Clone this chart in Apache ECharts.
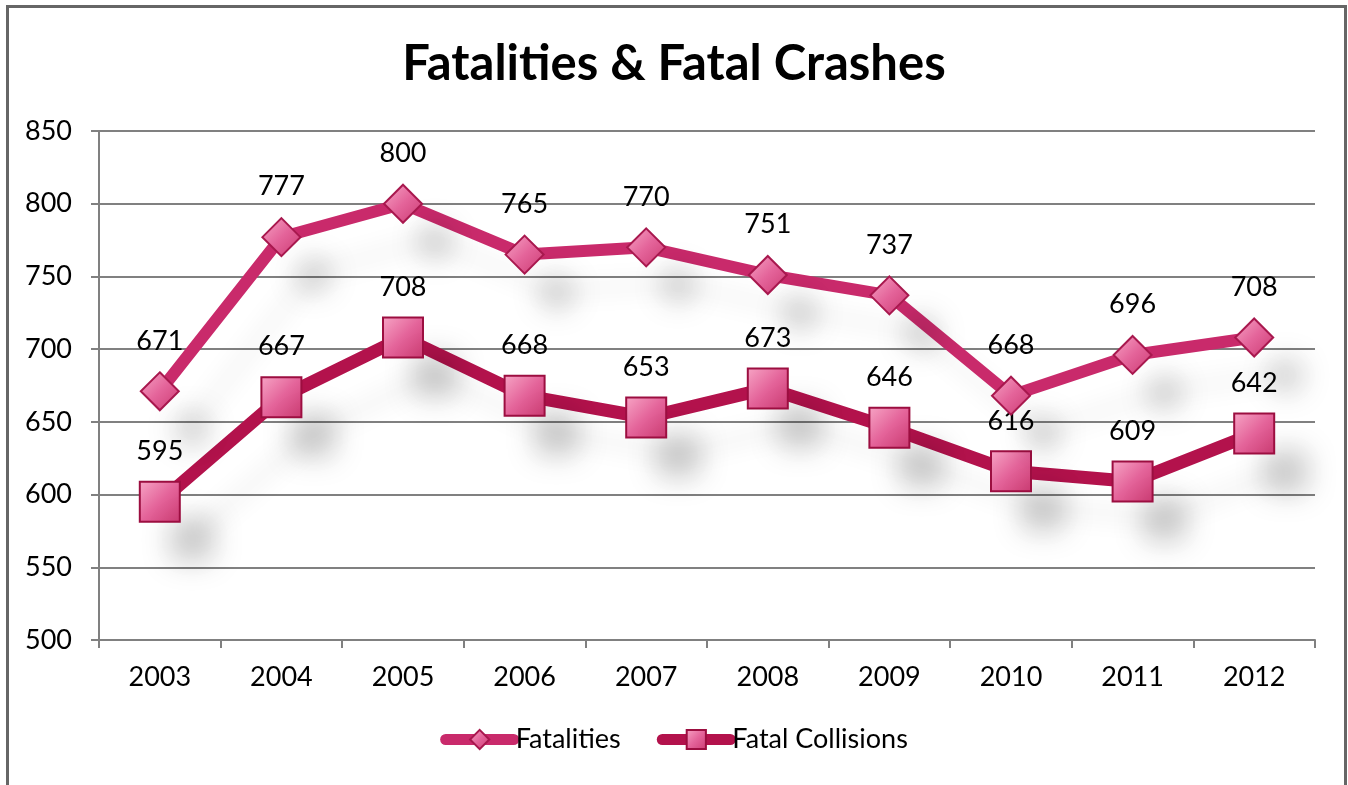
<!DOCTYPE html>
<html>
<head>
<meta charset="utf-8">
<script src="https://cdn.jsdelivr.net/npm/echarts@6/dist/echarts.min.js"></script>
<style>
html, body { margin: 0; padding: 0; background: #fff; }
#frame {
    position: absolute; left: 6px; top: 5px; width: 1341px; height: 800px;
    border: 3px solid #666; box-sizing: border-box;
}
#chart { position: absolute; left: 0; top: 0; width: 1348px; height: 785px; }
</style>
</head>
<body>
<div id="frame"></div>
<div id="chart"></div>
<script>
// 数据
const years = ['2003', '2004', '2005', '2006', '2007', '2008', '2009', '2010', '2011', '2012'];
const fatalities = [671, 777, 800, 765, 770, 751, 737, 668, 696, 708];
const fatalCollisions = [595, 667, 708, 668, 653, 673, 646, 616, 609, 642];

const font = 'Lato, "Open Sans", sans-serif';

// 标记的粉色渐变
const markerFill = new echarts.graphic.LinearGradient(0, 0, 1, 1, [
    { offset: 0, color: '#F7A6C6' },
    { offset: 0.5, color: '#E4649A' },
    { offset: 1, color: '#CC3A72' },
]);

// 阴影
const markerShadow = { shadowColor: 'rgba(0,0,0,0.22)', shadowBlur: 30, shadowOffsetX: 32, shadowOffsetY: 38 };

const chart = echarts.init(document.getElementById('chart'));
chart.setOption({
    backgroundColor: 'transparent',
    title: {
        text: 'Fatalities & Fatal Crashes',
        left: 'center',
        top: 35,
        textStyle: { fontFamily: font, fontSize: 49, fontWeight: 'bold', color: '#000' },
    },
    legend: {
        bottom: 27,
        left: 'center',
        itemWidth: 68,
        itemHeight: 24,
        itemGap: 36,
        lineStyle: { width: 11, cap: 'round' },
        textStyle: { fontFamily: font, fontSize: 27, color: '#000', padding: [0, 0, 0, -3] },
        data: ['Fatalities', 'Fatal Collisions'],
    },
    grid: { left: 99, right: 33, top: 131, bottom: 145 },
    xAxis: {
        type: 'category',
        data: years,
        boundaryGap: true,
        axisLine: { lineStyle: { color: '#808080', width: 2 } },
        axisTick: { show: true, length: 8, lineStyle: { color: '#808080', width: 2 } },
        axisLabel: { fontFamily: font, fontSize: 27, color: '#000', margin: 24 },
    },
    yAxis: {
        type: 'value',
        min: 500,
        max: 850,
        interval: 50,
        axisLine: { show: true, lineStyle: { color: '#808080', width: 2 } },
        axisTick: { show: true, length: 8, lineStyle: { color: '#808080', width: 2 } },
        axisLabel: { fontFamily: font, fontSize: 27, color: '#000', margin: 27 },
        splitLine: { lineStyle: { color: '#808080', width: 2 } },
    },
    series: [
        {
            name: 'Fatalities',
            type: 'line',
            data: fatalities,
            symbol: 'diamond',
            symbolSize: 38,
            lineStyle: {
                color: '#C92A6B', width: 12,
                shadowColor: 'rgba(0,0,0,0.06)', shadowBlur: 24, shadowOffsetX: 30, shadowOffsetY: 36,
            },
            itemStyle: Object.assign({ color: markerFill, borderColor: '#A8184E', borderWidth: 2 }, markerShadow),
            label: {
                show: true, position: 'top', distance: 17,
                fontFamily: font, fontSize: 27, color: '#000',
            },
            z: 3,
        },
        {
            name: 'Fatal Collisions',
            type: 'line',
            data: fatalCollisions,
            symbol: 'rect',
            symbolSize: 40,
            lineStyle: {
                color: '#B3124C', width: 13,
                shadowColor: 'rgba(0,0,0,0.06)', shadowBlur: 24, shadowOffsetX: 30, shadowOffsetY: 36,
            },
            itemStyle: Object.assign({ color: markerFill, borderColor: '#9C0E40', borderWidth: 2 }, markerShadow),
            label: {
                show: true, position: 'top', distance: 16,
                fontFamily: font, fontSize: 27, color: '#000',
            },
            z: 2,
        },
    ],
});
</script>
</body>
</html>
